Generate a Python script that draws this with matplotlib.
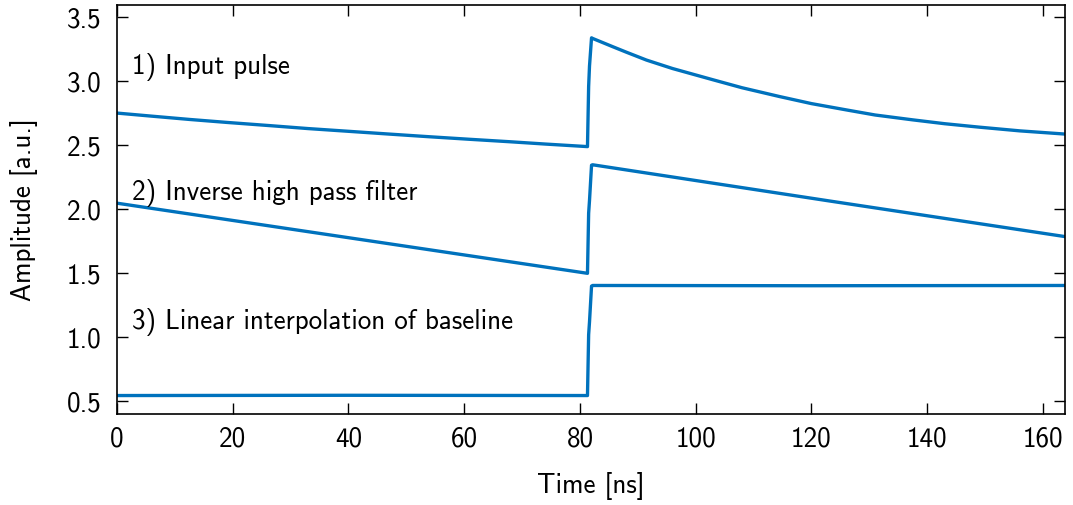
import matplotlib
matplotlib.use("Agg")
import matplotlib.pyplot as plt

plt.rcParams['font.family'] = ['cmss10', 'DejaVu Sans']
plt.rcParams['axes.unicode_minus'] = False

# values (time in ns, amplitude in a.u.)
t_input = [0, 6, 12.6, 19, 26.4, 33, 40.2, 47, 54.0, 61, 67.9, 74, 81.3,
           81.5, 81.65, 82.0, 82.2, 85.7, 88, 91.5, 96, 103.0, 108, 114.5, 120,
           126.0, 131, 137.5, 143, 149.0, 156, 163.8]
a_input = [2.752, 2.728, 2.702, 2.679, 2.654, 2.631, 2.609, 2.588, 2.567, 2.547, 2.528, 2.510, 2.490,
           2.96, 3.12, 3.34, 3.335, 3.27, 3.228, 3.166, 3.10, 3.012, 2.950, 2.881, 2.826,
           2.777, 2.737, 2.699, 2.669, 2.642, 2.613, 2.588]

t_filter = [0, 40.2, 81.3, 81.5, 81.65, 82.0, 82.2, 123.0, 163.8]
a_filter = [2.048, 1.777, 1.500, 1.97, 2.07, 2.345, 2.348, 2.066, 1.787]

t_base = [0, 40.0, 81.3, 81.5, 81.65, 82.0, 82.2, 120.0, 163.8]
a_base = [0.545, 0.547, 0.545, 1.02, 1.12, 1.40, 1.405, 1.403, 1.405]

labels = ["1) Input pulse", "2) Inverse high pass filter",
          "3) Linear interpolation of baseline"]
label_y = [3.11, 2.13, 1.12]

blue = '#0072BD'
fs = 19.5

fig = plt.figure(figsize=(10.73, 5.05), dpi=100)
ax = fig.add_axes([0.109, 0.180, 0.8835, 0.811])

ax.plot(t_input, a_input, color=blue, lw=2.4)
ax.plot(t_filter, a_filter, color=blue, lw=2.4)
ax.plot(t_base, a_base, color=blue, lw=2.4)

for s, y in zip(labels, label_y):
    ax.text(2.6, y, s, fontsize=fs, ha='left', va='center')

ax.set_xlim(0, 163.8)
ax.set_ylim(0.4, 3.6)
ax.set_xticks(range(0, 161, 20))
ax.set_yticks([0.5, 1.0, 1.5, 2.0, 2.5, 3.0, 3.5])
ax.set_yticklabels(["0.5", "1.0", "1.5", "2.0", "2.5", "3.0", "3.5"])
ax.tick_params(direction='in', length=8, width=1, top=True, right=True,
               labelsize=fs)
ax.tick_params(axis='y', pad=11)
ax.tick_params(axis='x', pad=9)
for sp in ax.spines.values():
    sp.set_linewidth(1.2)

ax.set_xlabel("Time [ns]", fontsize=fs, labelpad=15)
ax.set_ylabel("Amplitude [a.u.]", fontsize=fs, labelpad=21)

fig.savefig("out.png", dpi=100)
